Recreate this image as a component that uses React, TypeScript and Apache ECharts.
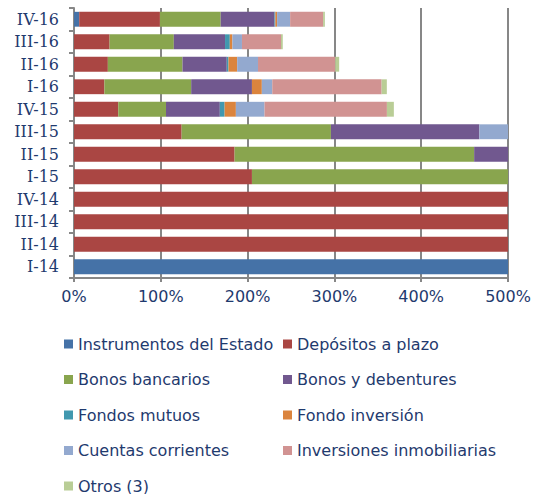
import React, { useEffect, useRef } from "react";
import * as echarts from "echarts";

const categories = ["I-14", "II-14", "III-14", "IV-14", "I-15", "II-15", "III-15", "IV-15", "I-16", "II-16", "III-16", "IV-16"];

const seriesNames = [
  "Instrumentos del Estado",
  "Depósitos a plazo",
  "Bonos bancarios",
  "Bonos y debentures",
  "Fondos mutuos",
  "Fondo inversión",
  "Cuentas corrientes",
  "Inversiones inmobiliarias",
  "Otros (3)",
];

const colors = ["#4572A7", "#AA4643", "#89A54E", "#71588F", "#4198AF", "#DB843D", "#93A9CF", "#D19392", "#B9CD96"];

const instrumentosEstado = [600, 0, 0, 0, 0, 0, 0, 0, 0, 0, 0, 6];
const depositosPlazo = [0, 600, 600, 600, 205, 185, 124, 51, 35, 39, 41, 93];
const bonosBancarios = [0, 0, 0, 0, 350, 276, 172, 55, 100, 86, 74, 70];
const bonosDebentures = [0, 0, 0, 0, 0, 80, 171, 62, 70, 51, 59, 62];
const fondosMutuos = [0, 0, 0, 0, 0, 0, 0, 5.5, 0, 2, 5.5, 1];
const fondoInversion = [0, 0, 0, 0, 0, 0, 0, 13, 11.4, 10, 3, 2];
const cuentasCorrientes = [0, 0, 0, 0, 0, 0, 50, 33, 12, 24, 11, 15];
const inversionesInmobiliarias = [0, 0, 0, 0, 0, 0, 0, 141, 126, 89, 45, 38];
const otros = [0, 0, 0, 0, 0, 0, 0, 8, 6, 4.5, 2, 2];

const allValues = [
  instrumentosEstado,
  depositosPlazo,
  bonosBancarios,
  bonosDebentures,
  fondosMutuos,
  fondoInversion,
  cuentasCorrientes,
  inversionesInmobiliarias,
  otros,
];

const xTicks = [0, 100, 200, 300, 400, 500];

const textColor = "#1F3A6E";
const gridColor = "#878787";

export default function App() {
  const ref = useRef<HTMLDivElement>(null);
  useEffect(() => {
    document.body.style.margin = "0";
    if (!ref.current) return;
    const chart = echarts.init(ref.current, undefined, { renderer: "svg" });
    const legendText = { fontFamily: "DejaVu Sans", fontSize: 16, color: textColor, lineHeight: 20 };
    const rowTops = [334, 369.5, 405, 440.5, 476];
    const legends = seriesNames.map((name, i) => ({
      data: [name],
      orient: "horizontal",
      left: i % 2 === 0 ? 64 : 283,
      top: rowTops[Math.floor(i / 2)],
      itemWidth: 9,
      itemHeight: 9,
      icon: "rect",
      selectedMode: false,
      textStyle: legendText,
      padding: 0,
    }));
    chart.setOption({
      animation: false,
      color: colors,
      grid: { left: 74, right: 26, top: 8, bottom: 216, containLabel: false },
      legend: legends,
      xAxis: {
        type: "value",
        min: xTicks[0],
        max: xTicks[xTicks.length - 1],
        interval: 100,
        axisLine: { show: true, lineStyle: { color: gridColor, width: 2 } },
        axisTick: { show: true, length: 4, lineStyle: { color: gridColor, width: 2 } },
        splitLine: { show: true, lineStyle: { color: gridColor, width: 2 } },
        axisLabel: {
          formatter: "{value}%",
          fontFamily: "DejaVu Sans",
          fontSize: 16,
          color: textColor,
          margin: 10,
        },
      },
      yAxis: {
        type: "category",
        data: categories,
        boundaryGap: true,
        axisLine: { show: true, lineStyle: { color: gridColor, width: 2 } },
        axisTick: { show: true, length: 5, interval: 0, lineStyle: { color: gridColor, width: 2 } },
        splitLine: { show: false },
        axisLabel: {
          fontFamily: "DejaVu Serif",
          fontSize: 16,
          color: textColor,
          margin: 15,
          interval: 0,
        },
      },
      series: seriesNames.map((name, i) => ({
        name,
        type: "bar",
        stack: "total",
        data: allValues[i],
        barCategoryGap: "34%",
        clip: true,
        itemStyle: { color: colors[i] },
        emphasis: { disabled: true },
      })),
    });
    return () => chart.dispose();
  }, []);
  return <div ref={ref} style={{ width: 534, height: 494 }} />;
}
